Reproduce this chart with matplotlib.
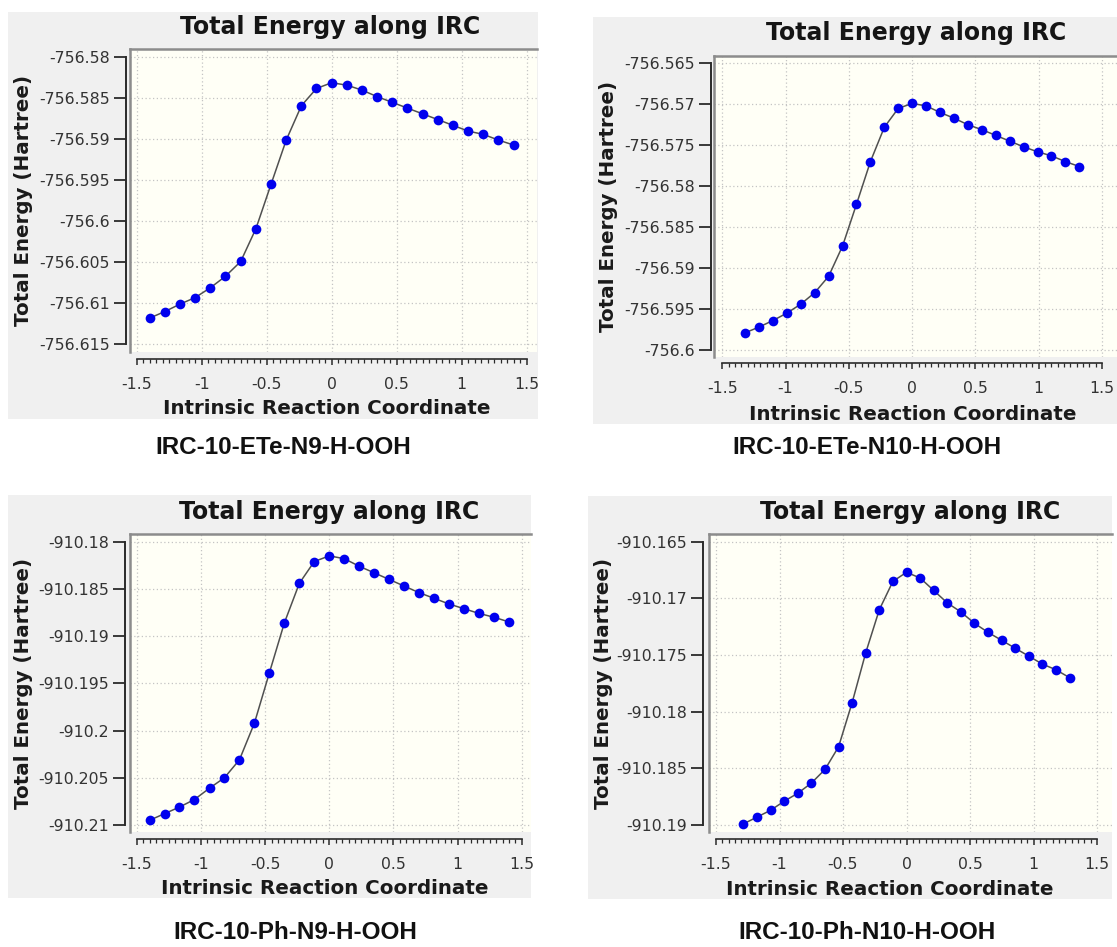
import numpy as np
import matplotlib
matplotlib.use("Agg")
import matplotlib.pyplot as plt
from matplotlib.patches import Rectangle
from matplotlib.lines import Line2D
from matplotlib.ticker import FixedLocator

# ---------------- data ----------------
irc_ete_n9 = [-1.400, -1.283, -1.167, -1.050, -0.933, -0.817, -0.700, -0.583, -0.467,
              -0.350, -0.233, -0.117, 0.000, 0.117, 0.233, 0.350, 0.467, 0.583,
              0.700, 0.817, 0.933, 1.050, 1.167, 1.283, 1.400]
energy_ete_n9 = [-756.6118, -756.6110, -756.6101, -756.6093, -756.6081, -756.6067,
                 -756.6049, -756.6009, -756.5955, -756.5901, -756.5859, -756.5838,
                 -756.5831, -756.5834, -756.5840, -756.5848, -756.5855, -756.5862,
                 -756.5869, -756.5876, -756.5883, -756.5890, -756.5894, -756.5901,
                 -756.5907]

irc_ete_n10 = [-1.32, -1.21, -1.10, -0.99, -0.88, -0.77, -0.66, -0.55, -0.44, -0.33,
               -0.22, -0.11, 0.00, 0.11, 0.22, 0.33, 0.44, 0.55, 0.66, 0.77, 0.88,
               0.99, 1.10, 1.21, 1.32]
energy_ete_n10 = [-756.5979, -756.5972, -756.5964, -756.5955, -756.5944, -756.5930,
                  -756.5910, -756.5873, -756.5822, -756.5770, -756.5728, -756.5705,
                  -756.5699, -756.5702, -756.5710, -756.5717, -756.5725, -756.5731,
                  -756.5738, -756.5745, -756.5752, -756.5758, -756.5763, -756.5770,
                  -756.5776]

irc_ph_n9 = [-1.400, -1.283, -1.167, -1.050, -0.933, -0.817, -0.700, -0.583, -0.467,
             -0.350, -0.233, -0.117, 0.000, 0.117, 0.233, 0.350, 0.467, 0.583,
             0.700, 0.817, 0.933, 1.050, 1.167, 1.283, 1.400]
energy_ph_n9 = [-910.2095, -910.2088, -910.2081, -910.2073, -910.2061, -910.2050,
                -910.2031, -910.1992, -910.1939, -910.1886, -910.1844, -910.1821,
                -910.1815, -910.1818, -910.1826, -910.1833, -910.1840, -910.1847,
                -910.1854, -910.1860, -910.1866, -910.1871, -910.1876, -910.1880,
                -910.1885]

irc_ph_n10 = [-1.284, -1.177, -1.070, -0.963, -0.856, -0.749, -0.642, -0.535, -0.428,
              -0.321, -0.214, -0.107, 0.000, 0.107, 0.214, 0.321, 0.428, 0.535,
              0.642, 0.749, 0.856, 0.963, 1.070, 1.177, 1.284]
energy_ph_n10 = [-910.1899, -910.1893, -910.1887, -910.1879, -910.1872, -910.1863,
                 -910.1851, -910.1831, -910.1792, -910.1748, -910.1710, -910.1685,
                 -910.1677, -910.1682, -910.1693, -910.1704, -910.1712, -910.1722,
                 -910.1730, -910.1737, -910.1744, -910.1751, -910.1758, -910.1763,
                 -910.1770]

x_ticks = [-1.5, -1.0, -0.5, 0.0, 0.5, 1.0, 1.5]
x_tick_labels = ["-1.5", "-1", "-0.5", "0", "0.5", "1", "1.5"]

yticks_ete_n9 = [-756.615, -756.61, -756.605, -756.6, -756.595, -756.59, -756.585, -756.58]
ylabels_ete_n9 = ["-756.615", "-756.61", "-756.605", "-756.6", "-756.595", "-756.59", "-756.585", "-756.58"]
yticks_ete_n10 = [-756.6, -756.595, -756.59, -756.585, -756.58, -756.575, -756.57, -756.565]
ylabels_ete_n10 = ["-756.6", "-756.595", "-756.59", "-756.585", "-756.58", "-756.575", "-756.57", "-756.565"]
yticks_ph_n9 = [-910.21, -910.205, -910.2, -910.195, -910.19, -910.185, -910.18]
ylabels_ph_n9 = ["-910.21", "-910.205", "-910.2", "-910.195", "-910.19", "-910.185", "-910.18"]
yticks_ph_n10 = [-910.19, -910.185, -910.18, -910.175, -910.17, -910.165]
ylabels_ph_n10 = ["-910.19", "-910.185", "-910.18", "-910.175", "-910.17", "-910.165"]

title_text = "Total Energy along IRC"
xlabel_text = "Intrinsic Reaction Coordinate"
ylabel_text = "Total Energy (Hartree)"
captions = ["IRC-10-ETe-N9-H-OOH", "IRC-10-ETe-N10-H-OOH",
            "IRC-10-Ph-N9-H-OOH", "IRC-10-Ph-N10-H-OOH"]

# ---------------- layout (pixels) ----------------
W, H = 1117, 947
plt.rcParams["font.family"] = ["DejaVu Sans"]

panels = [
    dict(x=irc_ete_n9, y=energy_ete_n9, yt=yticks_ete_n9, yl=ylabels_ete_n9, cap=captions[0],
         box=(8, 12, 538, 419), plot=(130, 49.5, 537, 351.7), ytpx=(57.3, 344.3),
         xref=(136.7, 130.0), yoff=4.0, xoff=7.3, title=(330, 27), capxy=(283, 447),
         xl=(327, 408), yl_x=23.3),
    dict(x=irc_ete_n10, y=energy_ete_n10, yt=yticks_ete_n10, yl=ylabels_ete_n10, cap=captions[1],
         box=(593, 16.7, 1117, 424), plot=(714, 56, 1117, 357), ytpx=(63.3, 350),
         xref=(722.3, 126.6), yoff=3.3, xoff=6.0, title=(916, 33), capxy=(867, 447),
         xl=(913, 414), yl_x=608.3),
    dict(x=irc_ph_n9, y=energy_ph_n9, yt=yticks_ph_n9, yl=ylabels_ph_n9, cap=captions[2],
         box=(8, 495, 531, 898), plot=(130, 534.3, 531, 831.7), ytpx=(541.7, 825),
         xref=(136.7, 128.4), yoff=5.0, xoff=7.3, title=(329, 512), capxy=(295, 932),
         xl=(325, 888), yl_x=23.3),
    dict(x=irc_ph_n10, y=energy_ph_n10, yt=yticks_ph_n10, yl=ylabels_ph_n10, cap=captions[3],
         box=(588, 496, 1112, 899), plot=(709, 534.3, 1112, 831.7), ytpx=(541.7, 825),
         xref=(716, 127.0), yoff=5.7, xoff=7.0, title=(910, 512), capxy=(867, 932),
         xl=(890, 889), yl_x=603.3),
]

PT = 0.72  # points per pixel at dpi 100

fig = plt.figure(figsize=(W / 100, H / 100), dpi=100)
fig.patch.set_facecolor("white")

minor_x = np.round(np.arange(-1.5, 1.5001, 0.05), 4)

for p in panels:
    l, t, r, b = p["box"]
    fig.add_artist(Rectangle((l / W, 1 - b / H), (r - l) / W, (b - t) / H,
                             transform=fig.transFigure, facecolor="#f0f0f0",
                             edgecolor="none", zorder=0))
    pl, pt, pr, pb = p["plot"]
    ax = fig.add_axes([pl / W, 1 - pb / H, (pr - pl) / W, (pb - pt) / H])
    ax.set_facecolor("#fffff6")
    ax.set_axisbelow(True)

    x0px, ppu = p["xref"]
    ax.set_xlim(-1.5 + (pl - x0px) / ppu, -1.5 + (pr - x0px) / ppu)
    yt = p["yt"]
    ytop, ybot = p["ytpx"]
    ppy = (ybot - ytop) / (yt[-1] - yt[0])
    ax.set_ylim(yt[0] - (pb - ybot) / ppy, yt[-1] + (ytop - pt) / ppy)

    ax.spines["top"].set_visible(False)
    ax.spines["right"].set_visible(False)
    ax.spines["left"].set_position(("outward", p["yoff"] * PT))
    ax.spines["left"].set_bounds(yt[0], yt[-1])
    ax.spines["left"].set_color("#2a2a2a")
    ax.spines["left"].set_linewidth(1.4)
    ax.spines["bottom"].set_position(("outward", p["xoff"] * PT))
    ax.spines["bottom"].set_bounds(-1.5, 1.5)
    ax.spines["bottom"].set_color("#2a2a2a")
    ax.spines["bottom"].set_linewidth(1.2)

    ax.yaxis.set_major_locator(FixedLocator(yt))
    ax.set_yticklabels(p["yl"])
    ax.xaxis.set_major_locator(FixedLocator(x_ticks))
    ax.set_xticklabels(x_tick_labels)
    ax.xaxis.set_minor_locator(FixedLocator(minor_x))

    ax.tick_params(axis="y", which="major", direction="out", length=12 * PT, width=1.3,
                   color="#2a2a2a", pad=4 * PT, labelsize=11.3, labelcolor="#333333")
    ax.tick_params(axis="x", which="major", direction="out", length=6 * PT, width=1.1,
                   color="#2a2a2a", pad=12 * PT, labelsize=11.3, labelcolor="#333333")
    ax.tick_params(axis="x", which="minor", direction="out", length=3.5 * PT, width=0.9,
                   color="#2a2a2a")

    ax.grid(True, which="major", color="#c4c4c4", linestyle=(0, (1, 2)), linewidth=0.9)

    # plot frame (top and left edges)
    ax.add_line(Line2D([0, 1], [1, 1], transform=ax.transAxes, color="#8c8c8c",
                       lw=1.8, clip_on=False, zorder=5))
    ax.add_line(Line2D([0, 0], [0, 1], transform=ax.transAxes, color="#8c8c8c",
                       lw=1.8, clip_on=False, zorder=5))

    ax.plot(p["x"], p["y"], color="#505050", lw=1.1, marker="o", ms=7.0,
            mfc="#0000ee", mec="#0000ee", mew=0, zorder=3, clip_on=False)

    tx, ty = p["title"]
    fig.text(tx / W, 1 - ty / H, title_text, ha="center", va="center",
             fontsize=17, fontweight="bold", color="#151515")
    xx, xy = p["xl"]
    fig.text(xx / W, 1 - xy / H, xlabel_text, ha="center", va="center",
             fontsize=14.3, fontweight="bold", color="#1a1a1a")
    fig.text(p["yl_x"] / W, 1 - ((pt + pb) / 2) / H, ylabel_text, ha="center",
             va="center", rotation=90, fontsize=14.3, fontweight="bold", color="#1a1a1a")
    cx, cy = p["capxy"]
    fig.text(cx / W, 1 - cy / H, p["cap"], ha="center", va="center",
             fontsize=17.5, fontweight="bold", family=["Liberation Sans", "DejaVu Sans"],
             color="#111111")

fig.savefig("out.png", dpi=100)
